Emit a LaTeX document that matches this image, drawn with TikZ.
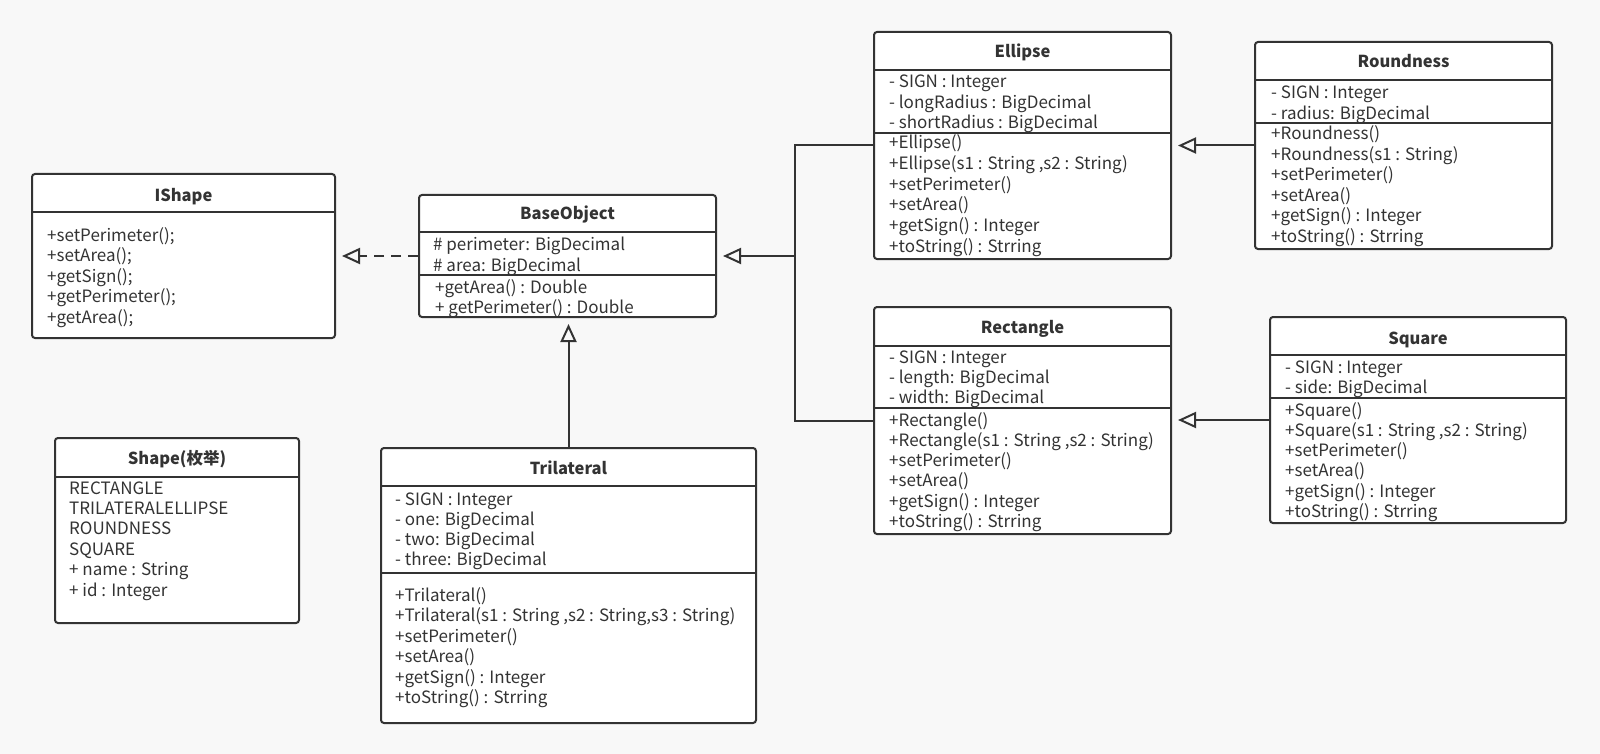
\documentclass[tikz,border=0pt]{standalone}
\usepackage{fontspec}
\setmainfont{Noto Sans CJK SC}
\usetikzlibrary{arrows.meta}
\definecolor{bg}{RGB}{248,248,248}
\definecolor{lc}{RGB}{51,51,51}
\tikzset{
  cls/.style={draw=lc, line width=2pt, fill=white, rounded corners=3pt, inner sep=0pt},
  txt/.style={inner sep=0pt, text=lc, font=\fontsize{17}{20}\selectfont},
  ttl/.style={inner sep=0pt, text=lc, anchor=base, font=\fontsize{16.5}{20}\selectfont\bfseries},
  conn/.style={draw=lc, line width=2pt},
  sep/.style={draw=lc, line width=2pt},
  inh/.style={conn, -{Triangle[open, length=18pt, width=16pt]}, shorten >=6pt},
  real/.style={inh, dash pattern=on 10pt off 7pt},
}
\newcommand\members[5]{\foreach \t [count=\i] in {#5} {\node[txt, anchor=base west] (#1-\i) at ({#2},{#3+(\i-1)*#4}) {\t};}}
\begin{document}
\begin{tikzpicture}[x=1pt,y=-1pt]
\fill[bg] (0,0) rectangle (1600,754);
\useasboundingbox (0,0) rectangle (1600,754);

% IShape
\node[cls, minimum width=303pt, minimum height=164pt] (ishape) at (183.5,256) {};
\node[ttl] (ishape-t) at (183.5,201) {IShape};
\draw[sep] (ishape.west |- 0,212) -- (ishape.east |- 0,212);
\members{ishape-m}{47}{241}{20.5}{+setPerimeter();,+setArea();,+getSign();,+getPerimeter();,+getArea();}

% BaseObject
\node[cls, minimum width=297pt, minimum height=122pt] (base) at (567.5,256) {};
\node[ttl] (base-t) at (567.5,219) {BaseObject};
\draw[sep] (base.west |- 0,232) -- (base.east |- 0,232);
\draw[sep] (base.west |- 0,275) -- (base.east |- 0,275);
\members{base-a}{433}{250}{21}{\# perimeter: BigDecimal,\# area: BigDecimal}
\members{base-m}{435}{293}{20.5}{+getArea() : Double,+ getPerimeter() : Double}

% Ellipse
\node[cls, minimum width=297pt, minimum height=227pt] (ell) at (1022.5,145.5) {};
\node[ttl] (ell-t) at (1022.5,58) {Ellipse};
\draw[sep] (ell.west |- 0,70) -- (ell.east |- 0,70);
\draw[sep] (ell.west |- 0,133) -- (ell.east |- 0,133);
\members{ell-a}{889}{88}{20.5}{- SIGN : Integer,- longRadius : BigDecimal,- shortRadius : BigDecimal}
\members{ell-m}{889}{149}{20.6}{+Ellipse(),{+Ellipse(s1 : String ,s2 : String)},+setPerimeter(),+setArea(),+getSign() : Integer,+toString() : Strring}

% Roundness
\node[cls, minimum width=297pt, minimum height=207pt] (rnd) at (1403.5,145.5) {};
\node[ttl] (rnd-t) at (1403.5,68) {Roundness};
\draw[sep] (rnd.west |- 0,80) -- (rnd.east |- 0,80);
\draw[sep] (rnd.west |- 0,123) -- (rnd.east |- 0,123);
\members{rnd-a}{1271}{99}{20.5}{- SIGN : Integer,- radius: BigDecimal}
\members{rnd-m}{1271}{140}{20.4}{+Roundness(),+Roundness(s1 : String),+setPerimeter(),+setArea(),+getSign() : Integer,+toString() : Strring}

% Rectangle
\node[cls, minimum width=297pt, minimum height=227pt] (rect) at (1022.5,420.5) {};
\node[ttl] (rect-t) at (1022.5,333) {Rectangle};
\draw[sep] (rect.west |- 0,346) -- (rect.east |- 0,346);
\draw[sep] (rect.west |- 0,408) -- (rect.east |- 0,408);
\members{rect-a}{889}{363}{20.3}{- SIGN : Integer,- length: BigDecimal,- width: BigDecimal}
\members{rect-m}{889}{426}{20.3}{+Rectangle(),{+Rectangle(s1 : String ,s2 : String)},+setPerimeter(),+setArea(),+getSign() : Integer,+toString() : Strring}

% Square
\node[cls, minimum width=296pt, minimum height=206pt] (sq) at (1418,420) {};
\node[ttl] (sq-t) at (1418,344) {Square};
\draw[sep] (sq.west |- 0,355) -- (sq.east |- 0,355);
\draw[sep] (sq.west |- 0,398) -- (sq.east |- 0,398);
\members{sq-a}{1285}{373}{20.4}{- SIGN : Integer,- side: BigDecimal}
\members{sq-m}{1285}{416}{20.3}{+Square(),{+Square(s1 : String ,s2 : String)},+setPerimeter(),+setArea(),+getSign() : Integer,+toString() : Strring}

% Trilateral
\node[cls, minimum width=375pt, minimum height=275pt] (tri) at (568.5,585.5) {};
\node[ttl] (tri-t) at (568.5,474) {Trilateral};
\draw[sep] (tri.west |- 0,486) -- (tri.east |- 0,486);
\draw[sep] (tri.west |- 0,573) -- (tri.east |- 0,573);
\members{tri-a}{395}{505}{20.3}{- SIGN : Integer,- one: BigDecimal,- two: BigDecimal,- three: BigDecimal}
\members{tri-m}{395}{601}{20.5}{+Trilateral(),{+Trilateral(s1 : String ,s2 : String,s3 : String)},+setPerimeter(),+setArea(),+getSign() : Integer,+toString() : Strring}

% Shape enum
\node[cls, minimum width=244pt, minimum height=185pt] (shp) at (177,530.5) {};
\node[ttl] (shp-t) at (177,464) {Shape(枚举)};
\draw[sep] (shp.west |- 0,477) -- (shp.east |- 0,477);
\members{shp-m}{69}{494}{20.4}{RECTANGLE,TRILATERALELLIPSE,ROUNDNESS,SQUARE,+ name : String,+ id : Integer}

% connectors
\coordinate (j) at (795,256);
\draw[real] (base.west) -- (ishape.east);
\draw[inh] (tri.north) -- (tri.north |- base.south);
\draw[conn] (ell.west) -| (j);
\draw[conn] (rect.west) -| (j);
\draw[inh] (j) -- (base.east);
\draw[inh] (rnd.west) -- (rnd.west -| ell.east);
\draw[inh] (sq.west) -- (sq.west -| rect.east);
\end{tikzpicture}
\end{document}
